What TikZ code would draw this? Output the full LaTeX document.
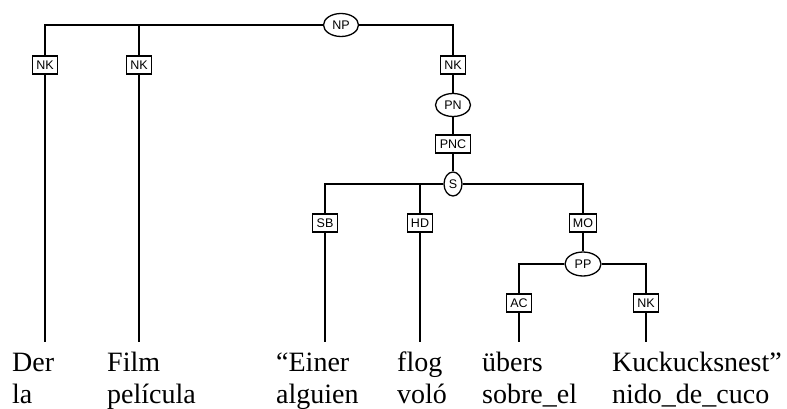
\documentclass[tikz,border=0pt]{standalone}
\usepackage{fontspec}
\setmainfont{Liberation Serif}
\newfontfamily\labelfont{Liberation Sans}
\usetikzlibrary{shapes.geometric}
\tikzset{
  edgelab/.style={draw, line width=1.3pt, rectangle, inner sep=0pt, minimum width=25pt, minimum height=18pt, font=\labelfont\fontsize{12.5}{13}\selectfont, fill=white},
  catlab/.style={draw, line width=1.3pt, ellipse, inner sep=0pt, minimum width=35pt, minimum height=23pt, font=\labelfont\fontsize{12.5}{13}\selectfont, fill=white},
  branch/.style={line width=1.3pt, draw=black},
  word/.style={anchor=base west, inner sep=0pt, font=\fontsize{28}{32}\selectfont, align=left}
}
\begin{document}
\begin{tikzpicture}[x=1pt,y=-1pt]
\useasboundingbox (0,0) rectangle (787,409);
% category nodes
\node[catlab] (np) at (341,25) {NP};
\node[edgelab] (nk1) at (45,65) {NK};
\node[edgelab] (nk2) at (139,65) {NK};
\node[edgelab] (nk3) at (453,65) {NK};
\node[catlab] (pn) at (453,105) {PN};
\node[edgelab, minimum width=35pt] (pnc) at (453,144) {PNC};
\node[catlab, minimum width=18pt, minimum height=24pt] (s) at (453,184) {S};
\node[edgelab] (sb) at (325,223) {SB};
\node[edgelab] (hd) at (420,223) {HD};
\node[edgelab, minimum width=27pt] (mo) at (583,223) {MO};
\node[catlab, minimum width=36pt, minimum height=24pt] (pp) at (583,264) {PP};
\node[edgelab] (ac) at (519,303) {AC};
\node[edgelab] (nk4) at (646,303) {NK};
% line ends
\coordinate (e1) at (45,342);
\coordinate (e2) at (139,342);
\coordinate (e3) at (325,342);
\coordinate (e4) at (420,342);
\coordinate (e5) at (519,342);
\coordinate (e6) at (646,342);
% connectors
\draw[branch] (np) -| (nk1);
\draw[branch] (np) -| (nk2);
\draw[branch] (np) -| (nk3);
\draw[branch] (nk1) -- (e1);
\draw[branch] (nk2) -- (e2);
\draw[branch] (nk3) -- (pn);
\draw[branch] (pn) -- (pnc);
\draw[branch] (pnc) -- (s);
\draw[branch] (s) -| (sb);
\draw[branch] (s) -| (hd);
\draw[branch] (s) -| (mo);
\draw[branch] (sb) -- (e3);
\draw[branch] (hd) -- (e4);
\draw[branch] (mo) -- (pp);
\draw[branch] (pp) -| (ac);
\draw[branch] (pp) -| (nk4);
\draw[branch] (ac) -- (e5);
\draw[branch] (nk4) -- (e6);
% words (base anchor = baseline of the last line)
\node[word] (w1) at (12,403) {Der\\la};
\node[word] (w2) at (107,403) {Film\\película};
\node[word] (w3) at (276,403) {“Einer\\alguien};
\node[word] (w4) at (397,403) {flog\\voló};
\node[word] (w5) at (482,403) {übers\\sobre\_el};
\node[word] (w6) at (612,403) {Kuckucksnest”\\nido\_de\_cuco};
\end{tikzpicture}
\end{document}
